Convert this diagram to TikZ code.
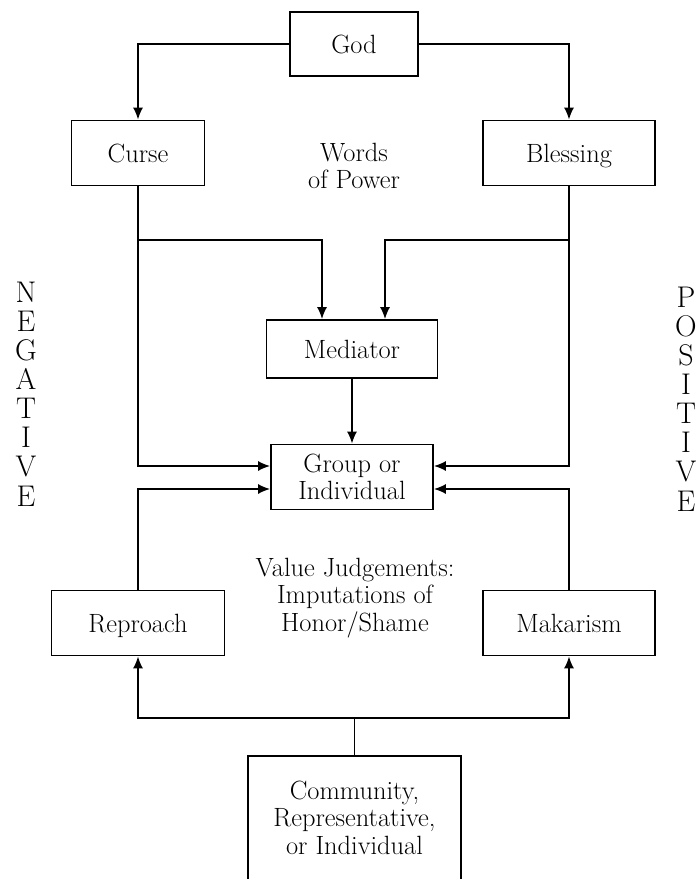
\documentclass[tikz,border=0pt]{standalone}
\usetikzlibrary{arrows.meta,calc}
\begin{document}
\begin{tikzpicture}[x=1bp,y=-1bp,
  txt/.style={font=\fontsize{26.5}{27.5}\selectfont},
  box/.style={txt,draw,line width=1.7bp,inner sep=0pt,align=center,text height=18bp,text depth=0bp},
  box2/.style={txt,draw,line width=1.7bp,inner sep=0pt,align=center},
  lbl/.style={txt,inner sep=0pt,align=center},
  vert/.style={inner sep=0pt,align=center,font=\fontsize{30}{29.2}\selectfont},
  conn/.style={line width=1.7bp},
  arr/.style={line width=1.7bp,-{Latex[length=12bp,width=10bp]}}]
\useasboundingbox (0,0) rectangle (696,879);
\node[box,minimum width=128bp,minimum height=64bp] (god) at (354,44) {God};
\node[box,minimum width=133bp,minimum height=65bp] (curse) at (138,153) {Curse};
\node[box,minimum width=172bp,minimum height=65bp] (blessing) at (569,153) {Blessing};
\node[lbl] (words) at (354,166) {Words\\of Power};
\node[box,minimum width=171bp,minimum height=58bp] (mediator) at (352,349) {Mediator};
\node[box2,minimum width=162bp,minimum height=65bp] (group) at (352,477) {Group or\\Individual};
\node[box,minimum width=173bp,minimum height=65bp] (reproach) at (138,623) {Reproach};
\node[box,minimum width=172bp,minimum height=65bp] (makarism) at (569,623) {Makarism};
\node[lbl] (value) at (355,598) {Value Judgements:\\Imputations of\\Honor/Shame};
\node[lbl,minimum width=213bp,minimum height=123bp] (comm) at (354.5,817.5) {Community,\\Representative,\\or Individual};
\draw[conn] (comm.south west) -- (comm.north west) -- (comm.north east) -- (comm.south east);
\node[vert] (neg) at (26,394) {N\\E\\G\\A\\T\\I\\V\\E};
\node[vert] (pos) at (686,399) {P\\O\\S\\I\\T\\I\\V\\E};
% God to Curse / Blessing
\draw[arr] (god.west) -| (curse.north);
\draw[arr] (god.east) -| (blessing.north);
% Curse / Blessing to Group
\draw[arr] (curse.south) |- ($(group.west)+(0,-11)$);
\draw[arr] (blessing.south) |- ($(group.east)+(0,-11)$);
% branches to Mediator
\coordinate (cb) at (curse.south |- 0,240);
\coordinate (bb) at (blessing.south |- 0,240);
\draw[arr] (cb) -| ($(mediator.north)+(-30,0)$);
\draw[arr] (bb) -| ($(mediator.north)+(33,0)$);
\draw[arr] (mediator.south) -- (group.north);
% Reproach / Makarism to Group
\draw[arr] (reproach.north) |- ($(group.west)+(0,12)$);
\draw[arr] (makarism.north) |- ($(group.east)+(0,12)$);
% Community to Reproach / Makarism
\coordinate (cj) at ($(comm.north)+(0,-38)$);
\draw[conn] (comm.north) -- (cj);
\draw[arr] (cj) -| (reproach.south);
\draw[arr] (cj) -| (makarism.south);
\end{tikzpicture}
\end{document}
